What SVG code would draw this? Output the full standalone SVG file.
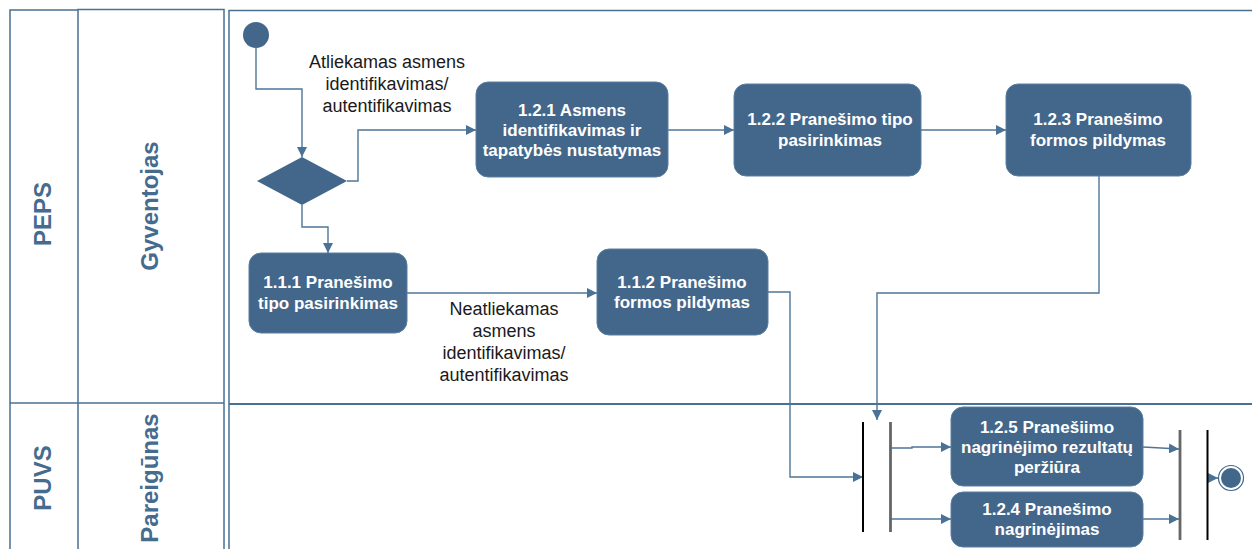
<svg xmlns="http://www.w3.org/2000/svg" width="1252" height="549" viewBox="0 0 1252 549">
  <style>
    .lane { fill: none; stroke: #4a7092; stroke-width: 1.5; }
    .lane-thick { fill: none; stroke: #4a7092; stroke-width: 2.2; }
    .lane-label { font-family: "Liberation Sans", Arial, sans-serif; font-weight: bold; font-size: 24px; fill: #456b8e; text-anchor: middle; }
    .act { fill: #43678a; stroke: #5a7fa0; stroke-width: 1; }
    .act-text { font-family: "Liberation Sans", Arial, sans-serif; font-weight: bold; font-size: 17px; fill: #ffffff; text-anchor: middle; }
    .note { font-family: "Liberation Sans", Arial, sans-serif; font-size: 18px; fill: #1a1a1a; text-anchor: middle; }
    .flow { fill: none; stroke: #4f7699; stroke-width: 1.4; }
    .bar-k { stroke: #000000; stroke-width: 2; }
    .bar-g { stroke: #666666; stroke-width: 2.8; }
  </style>
  <defs>
    <marker id="arrow" viewBox="0 0 10 10" refX="10" refY="5" markerWidth="10" markerHeight="10" markerUnits="userSpaceOnUse" orient="auto">
      <path d="M0,0 L10,5 L0,10 z" fill="#4a7196"/>
    </marker>
  </defs>

  <rect width="1252" height="549" fill="#ffffff"/>

  <!-- swimlane frame -->
  <g id="lanes">
    <path class="lane" d="M10,549 V10 H78 M78,549 V9.5 H224 V549 M229,549 V10.5 H1252"/>
    <path class="lane" d="M10,403 H224"/>
    <path class="lane-thick" d="M229,404 H1252"/>
    <text class="lane-label" transform="translate(51,214) rotate(-90)">PEPS</text>
    <text class="lane-label" transform="translate(158,206) rotate(-90)">Gyventojas</text>
    <text class="lane-label" transform="translate(51,478) rotate(-90)">PUVS</text>
    <text class="lane-label" transform="translate(158,478) rotate(-90)">Pareigūnas</text>
  </g>

  <!-- connectors -->
  <g id="connectors">
    <path class="flow" d="M256,48 V89 H302 V157" marker-end="url(#arrow)"/>
    <path class="flow" d="M347,181 H358 V130 H476" marker-end="url(#arrow)"/>
    <path class="flow" d="M302,205 V227 H328 V253" marker-end="url(#arrow)"/>
    <path class="flow" d="M668,130 H734" marker-end="url(#arrow)"/>
    <path class="flow" d="M921,130 H1006" marker-end="url(#arrow)"/>
    <path class="flow" d="M1099,176 V293 H877 V420" marker-end="url(#arrow)"/>
    <path class="flow" d="M407,293 H597" marker-end="url(#arrow)"/>
    <path class="flow" d="M768,292 H790 V477 H863" marker-end="url(#arrow)"/>
    <path class="flow" d="M891,448 H912 V447 H951" marker-end="url(#arrow)"/>
    <path class="flow" d="M891,519 H951" marker-end="url(#arrow)"/>
    <path class="flow" d="M1143,447 L1179,449" marker-end="url(#arrow)"/>
    <path class="flow" d="M1143,519 H1179" marker-end="url(#arrow)"/>
    <path class="flow" d="M1208,478 H1218" marker-end="url(#arrow)"/>
  </g>

  <!-- labels on flows -->
  <g id="flow-labels">
    <text class="note"><tspan x="387" y="68">Atliekamas asmens</tspan><tspan x="387" y="90">identifikavimas/</tspan><tspan x="387" y="112">autentifikavimas</tspan></text>
    <text class="note"><tspan x="504" y="315">Neatliekamas</tspan><tspan x="504" y="337">asmens</tspan><tspan x="504" y="359">identifikavimas/</tspan><tspan x="504" y="381">autentifikavimas</tspan></text>
  </g>

  <g id="start">
    <circle cx="256" cy="35" r="13" fill="#43678a"/>
  </g>

  <g id="decision">
    <polygon points="302,157 347,181 302,205 257,181" fill="#43678a"/>
  </g>

  <g id="a121">
    <rect class="act" x="476" y="82" width="192" height="95" rx="12"/>
    <text class="act-text"><tspan x="572" y="116">1.2.1 Asmens</tspan><tspan x="572" y="136">identifikavimas ir</tspan><tspan x="572" y="156">tapatybės nustatymas</tspan></text>
  </g>

  <g id="a122">
    <rect class="act" x="734" y="84" width="187" height="92" rx="12"/>
    <text class="act-text"><tspan x="830" y="125">1.2.2 Pranešimo tipo</tspan><tspan x="830" y="146">pasirinkimas</tspan></text>
  </g>

  <g id="a123">
    <rect class="act" x="1006" y="84" width="185" height="92" rx="12"/>
    <text class="act-text"><tspan x="1098" y="125">1.2.3 Pranešimo</tspan><tspan x="1098" y="146">formos pildymas</tspan></text>
  </g>

  <g id="a111">
    <rect class="act" x="249" y="253" width="158" height="80" rx="12"/>
    <text class="act-text"><tspan x="328" y="288">1.1.1 Pranešimo</tspan><tspan x="328" y="309">tipo pasirinkimas</tspan></text>
  </g>

  <g id="a112">
    <rect class="act" x="597" y="249" width="171" height="86" rx="12"/>
    <text class="act-text"><tspan x="682" y="288">1.1.2 Pranešimo</tspan><tspan x="682" y="308">formos pildymas</tspan></text>
  </g>

  <g id="a125">
    <rect class="act" x="951" y="407" width="192" height="79" rx="12"/>
    <text class="act-text"><tspan x="1047" y="433">1.2.5 Pranešiimo</tspan><tspan x="1047" y="453">nagrinėjimo rezultatų</tspan><tspan x="1047" y="473">peržiūra</tspan></text>
  </g>

  <g id="a124">
    <rect class="act" x="951" y="492" width="192" height="55" rx="12"/>
    <text class="act-text"><tspan x="1047" y="515">1.2.4 Pranešimo</tspan><tspan x="1047" y="535">nagrinėjimas</tspan></text>
  </g>

  <g id="join-in">
    <line class="bar-k" x1="863" y1="422" x2="863" y2="532"/>
  </g>
  <g id="fork">
    <line class="bar-g" x1="890.5" y1="422" x2="890.5" y2="532"/>
  </g>
  <g id="join-out">
    <line class="bar-g" x1="1180" y1="430" x2="1180" y2="540"/>
  </g>
  <g id="merge">
    <line class="bar-k" x1="1207.5" y1="430" x2="1207.5" y2="540"/>
  </g>

  <g id="end">
    <circle cx="1231" cy="478" r="12.5" fill="#ffffff" stroke="#43678a" stroke-width="1.2"/>
    <circle cx="1231" cy="478" r="10" fill="#43678a"/>
  </g>
</svg>
